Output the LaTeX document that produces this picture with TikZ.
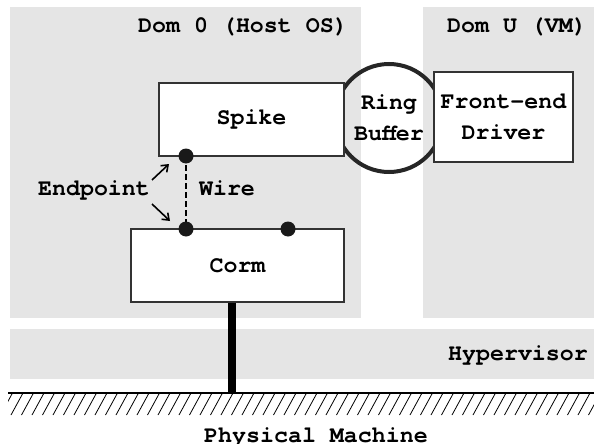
\documentclass[tikz,border=0pt]{standalone}
\usepackage{fontspec}
\setmonofont{TeX Gyre Cursor}
\usetikzlibrary{arrows.meta}
\tikzset{
  dom/.style={fill=gray!20, draw=none},
  part/.style={draw=black!80, fill=white, line width=1.2pt, inner sep=0pt},
  lbl/.style={font=\ttfamily\bfseries\fontsize{23.3}{31}\selectfont, align=center},
  joint/.style={circle, fill=black!90, inner sep=0pt, minimum size=15pt},
  pointer/.style={-{Straight Barb[length=6pt,width=9pt]}, line width=1.6pt},
}
\begin{document}
\begin{tikzpicture}[x=1pt,y=-1pt]
\useasboundingbox (0,0) rectangle (594,444);
% domains and hypervisor
\fill[dom] (10,7) rectangle (361,318);
\fill[dom] (423,7) rectangle (594,318);
\fill[dom] (10,329) rectangle (594,379);
\node[lbl] (dom0) at (243,27) {Dom 0 (Host OS)};
\node[lbl] (domu) at (517,27) {Dom U (VM)};
\node[lbl] (hyp) at (518,355) {Hypervisor};
% ring buffer
\node[lbl, circle, draw=black!85, line width=4pt, minimum size=108pt, inner sep=0pt] (ring) at (389,118) {Ring\\Buffer};
% components
\node[part, lbl, minimum width=185pt, minimum height=73pt] (spike) at (251.5,119.5) {Spike};
\node[part, lbl, minimum width=139pt, minimum height=90pt] (front) at (503.5,117) {Front-end\\Driver};
\node[part, lbl, minimum width=213pt, minimum height=73pt] (corm) at (237.5,265.5) {Corm};
% wire between endpoints
\coordinate (ep1) at (186,156);
\coordinate (ep2) at (186,229);
\coordinate (ep3) at (288,229);
\draw[line width=1.3pt, dash pattern=on 6pt off 3pt] (ep1) -- (ep2);
\node[joint] (dot1) at (ep1) {};
\node[joint] (dot2) at (ep2) {};
\node[joint] (dot3) at (ep3) {};
\node[lbl] (wire) at (227,188) {Wire};
\node[lbl] (endpt) at (94,190) {Endpoint};
\coordinate (a1) at (152,180);
\coordinate (a2) at (152,204);
\draw[pointer] (a1) -- (169,164);
\draw[pointer] (a2) -- (170,221);
% ground
\coordinate (g1) at (8,393);
\coordinate (g2) at (594,393);
\coordinate (pin) at (232,393);
\draw[line width=8pt] (pin |- corm.south) -- (pin);
\begin{scope}
\clip (8,393) rectangle (594,415);
\foreach \x in {-10,0.5,...,600}
  \draw[line width=0.8pt] (\x,415) -- (\x+12,393);
\end{scope}
\draw[line width=1.2pt] (g1) -- (g2);
\node[lbl, anchor=base] (pm) at (316,442) {Physical Machine};
\end{tikzpicture}
\end{document}
